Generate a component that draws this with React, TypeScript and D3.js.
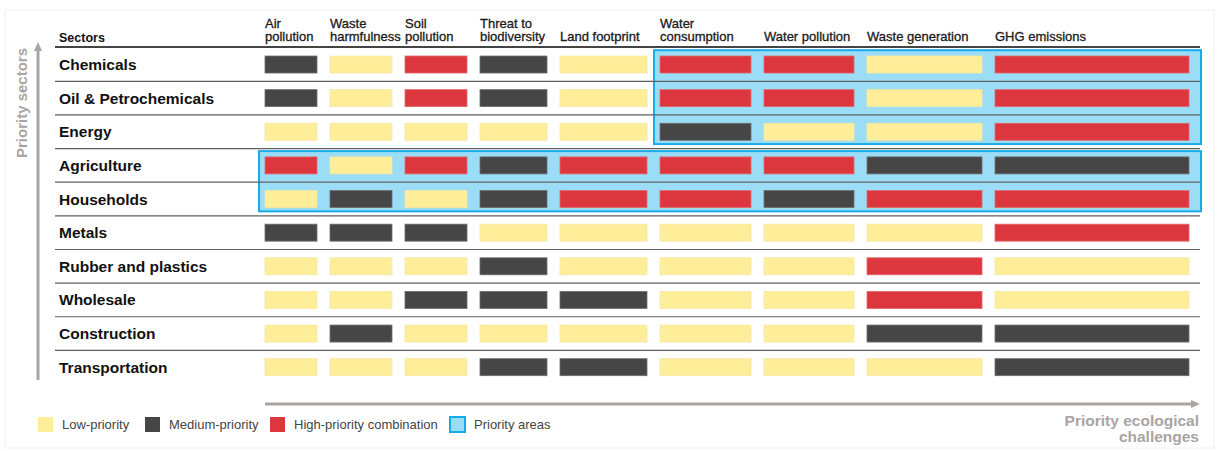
import * as d3 from 'd3'
import React from 'react'

// Data
const sectors = [
  'Chemicals',
  'Oil & Petrochemicals',
  'Energy',
  'Agriculture',
  'Households',
  'Metals',
  'Rubber and plastics',
  'Wholesale',
  'Construction',
  'Transportation',
]

const challenges = [
  'Air pollution',
  'Waste harmfulness',
  'Soil pollution',
  'Threat to biodiversity',
  'Land footprint',
  'Water consumption',
  'Water pollution',
  'Waste generation',
  'GHG emissions',
]

// header text as it wraps in the original
const challengeLabels = [
  ['Air', 'pollution'],
  ['Waste', 'harmfulness'],
  ['Soil', 'pollution'],
  ['Threat to', 'biodiversity'],
  ['Land footprint'],
  ['Water', 'consumption'],
  ['Water pollution'],
  ['Waste generation'],
  ['GHG emissions'],
]

// L = low, M = medium, H = high-priority combination (one row per sector)
const levels = [
  ['M', 'L', 'H', 'M', 'L', 'H', 'H', 'L', 'H'],
  ['M', 'L', 'H', 'M', 'L', 'H', 'H', 'L', 'H'],
  ['L', 'L', 'L', 'L', 'L', 'M', 'L', 'L', 'H'],
  ['H', 'L', 'H', 'M', 'H', 'H', 'H', 'M', 'M'],
  ['L', 'M', 'L', 'M', 'H', 'H', 'M', 'H', 'H'],
  ['M', 'M', 'M', 'L', 'L', 'L', 'L', 'L', 'H'],
  ['L', 'L', 'L', 'M', 'L', 'L', 'L', 'H', 'L'],
  ['L', 'L', 'M', 'M', 'M', 'L', 'L', 'H', 'L'],
  ['L', 'M', 'L', 'L', 'L', 'L', 'L', 'M', 'M'],
  ['L', 'L', 'L', 'M', 'M', 'L', 'L', 'L', 'M'],
]

const priorityAreas = [
  { rows: ['Chemicals', 'Energy'], cols: ['Water consumption', 'GHG emissions'] },
  { rows: ['Agriculture', 'Households'], cols: ['Air pollution', 'GHG emissions'] },
]

const legendItems = [
  { key: 'L', label: 'Low-priority' },
  { key: 'M', label: 'Medium-priority' },
  { key: 'H', label: 'High-priority combination' },
  { key: 'P', label: 'Priority areas' },
]

// Layout / style
const WIDTH = 1219
const HEIGHT = 451
const colWeights = [65, 75, 75, 80, 100, 104, 103, 128, 207]
const colGap = 13
const barHeight = 17
const legendX = [38, 145, 270, 450]

const colors: Record<string, string> = {
  L: '#ffee99',
  M: '#464646',
  H: '#dc373e',
}
const edge: Record<string, string> = {
  L: '#f6e7a2',
  M: '#6e6e6e',
  H: '#e0686c',
}
const blueFill = '#9bddf6'
const blueStroke = '#17ace8'
const axisGrey = '#aaa4a4'
const font = '"Liberation Sans", Arial, sans-serif'

const App = () => {
  const y = d3.scaleBand<string>().domain(sectors).range([47.7, 384])

  const cum = d3.cumsum([0, ...colWeights])
  const xLin = d3.scaleLinear().domain([0, cum[cum.length - 1]]).range([265, 1202])
  const colX = (c: string) => xLin(cum[challenges.indexOf(c)])
  const colW = (c: string) => {
    const i = challenges.indexOf(c)
    return xLin(cum[i + 1]) - xLin(cum[i]) - colGap
  }

  const bw = y.bandwidth()
  const barY = (s: string) => (y(s) as number) + (bw - barHeight) / 2

  const right = 1200

  return (
    <div style={{ position: 'absolute', left: 0, top: 0 }}>
      <svg width={WIDTH} height={HEIGHT} style={{ display: 'block', fontFamily: font }}>
        <rect x={5} y={10} width={1209} height={438} fill="white" stroke="#f1f1f1" />

        {/* priority area boxes */}
        {priorityAreas.map((p, i) => {
          const x0 = colX(p.cols[0]) - 6
          const x1 = colX(p.cols[1]) + colW(p.cols[1]) + 12
          const y0 = (y(p.rows[0]) as number) + 2.5
          const y1 = (y(p.rows[1]) as number) + bw - 4.5
          return (
            <rect key={i} x={x0} y={y0} width={x1 - x0} height={y1 - y0}
              fill={blueFill} stroke={blueStroke} strokeWidth={2} />
          )
        })}

        {/* row separators */}
        {sectors.slice(1).map((s) => (
          <line key={s} x1={55} x2={right} y1={y(s)} y2={y(s)} stroke="#606060" strokeWidth={1.2} />
        ))}
        <line x1={55} x2={right} y1={47} y2={47} stroke="#444" strokeWidth={2} />

        {/* cells */}
        {sectors.map((s, r) =>
          challenges.map((c, k) => {
            const lv = levels[r][k]
            return (
              <rect key={s + c} x={colX(c)} y={barY(s)} width={colW(c)} height={barHeight}
                fill={colors[lv]} stroke={edge[lv]} strokeWidth={0.8} />
            )
          })
        )}

        {/* header */}
        <text x={59} y={42} fontSize={12.5} fontWeight="bold" fill="#111">Sectors</text>
        {challenges.map((c, k) => {
          const lines = challengeLabels[k]
          return (
            <text key={c} x={colX(c)} fontSize={13} fill="#1a1a1a" stroke="#1a1a1a" strokeWidth={0.3}>
              {lines.map((l, j) => (
                <tspan key={j} x={colX(c)} y={41 - (lines.length - 1 - j) * 13}>{l}</tspan>
              ))}
            </text>
          )
        })}

        {/* sector labels */}
        {sectors.map((s) => (
          <text key={s} x={59} y={(y(s) as number) + bw / 2 + 5.5} fontSize={15.5}
            fontWeight="bold" fill="#111">{s}</text>
        ))}

        {/* vertical axis arrow */}
        <line x1={38} x2={38} y1={380} y2={50} stroke={axisGrey} strokeWidth={3} />
        <path d="M38,42 L34,51 L42,51 Z" fill={axisGrey} />
        <text transform="translate(27,158) rotate(-90)" fontSize={15} fontWeight="bold" fill={axisGrey}>
          Priority sectors
        </text>

        {/* horizontal axis arrow */}
        <line x1={265} x2={1192} y1={404} y2={404} stroke={axisGrey} strokeWidth={3} />
        <path d="M1200,404 L1191,400 L1191,408 Z" fill={axisGrey} />
        <text x={1199} y={426} textAnchor="end" fontSize={15.5} fontWeight="bold" fill={axisGrey}>
          Priority ecological
        </text>
        <text x={1199} y={442} textAnchor="end" fontSize={15.5} fontWeight="bold" fill={axisGrey}>
          challenges
        </text>

        {/* legend */}
        {legendItems.map((d, i) => (
          <g key={d.key} transform={`translate(${legendX[i]},417)`}>
            <rect x={0} y={0} width={15} height={15}
              fill={d.key === 'P' ? blueFill : colors[d.key]}
              stroke={d.key === 'P' ? blueStroke : 'none'} strokeWidth={d.key === 'P' ? 2 : 0} />
            <text x={24} y={12} fontSize={13} fill="#444">{d.label}</text>
          </g>
        ))}
      </svg>
    </div>
  )
}

export default App
